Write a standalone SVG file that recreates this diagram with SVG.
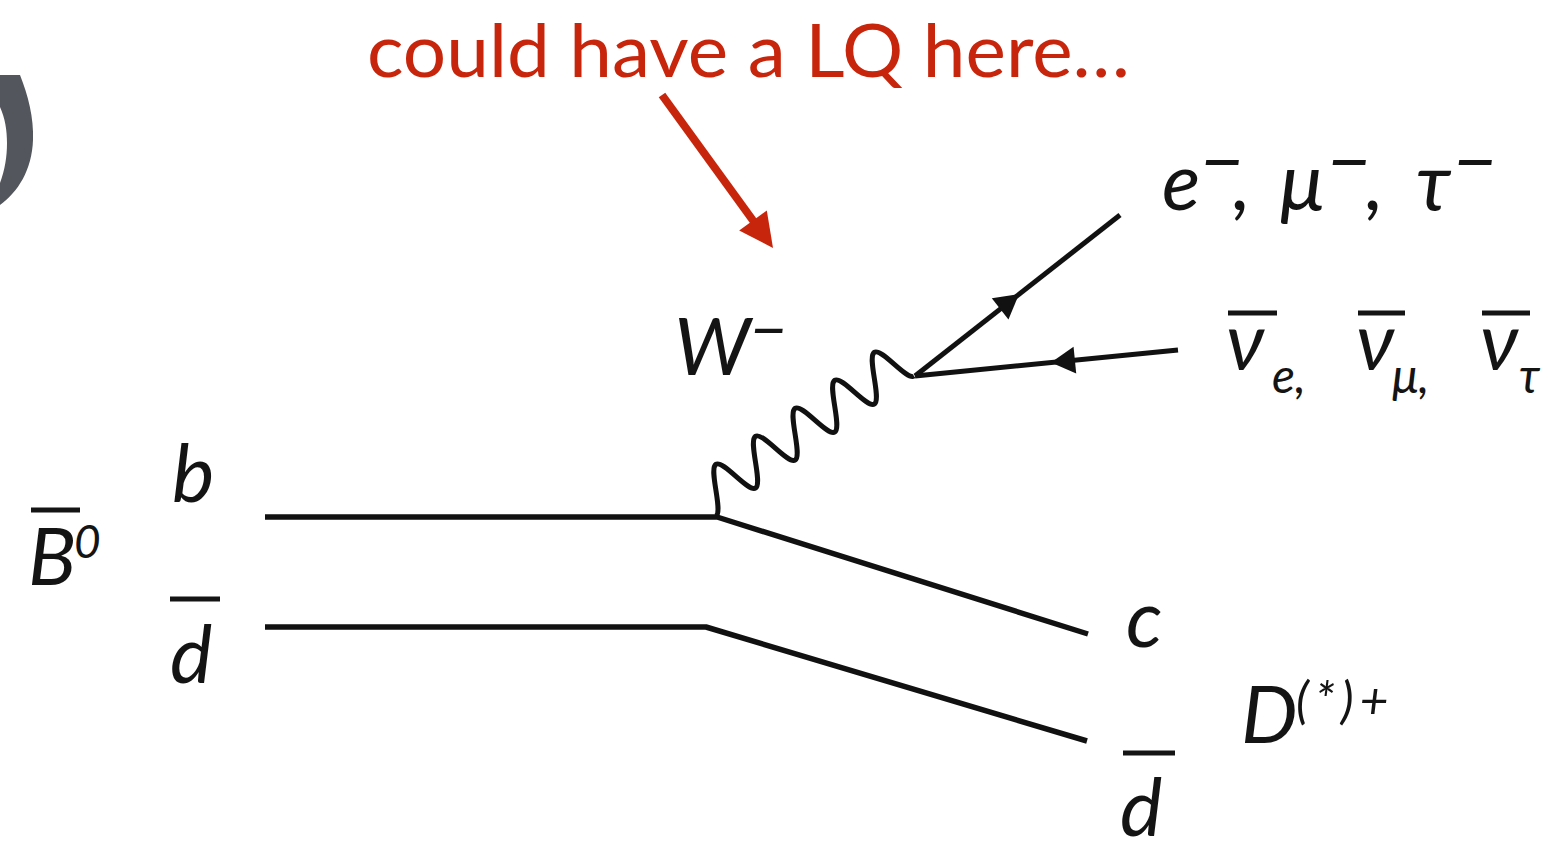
<svg xmlns="http://www.w3.org/2000/svg" width="1548" height="846" viewBox="0 0 1548 846">
<defs>
<style>
.lbl{font-family:Lato,"Noto Sans","DejaVu Sans",sans-serif;font-style:italic;font-size:80px;fill:#141414}
.sup{font-size:64px}
.supm{font-size:76px}
.sub{font-size:48px}
.star{font-size:50px;letter-spacing:6px}
.sm{font-size:46px}
.bar{stroke:#141414;stroke-width:5;fill:none}
.prop{stroke:#111;stroke-width:5.5;fill:none;stroke-linejoin:round;stroke-linecap:butt}
.lep{stroke:#111;stroke-width:5;fill:none}
.wave{stroke:#111;stroke-width:5;fill:none}
.ah{fill:#111}
.red{font-family:Lato,"Open Sans",sans-serif;font-size:74px;fill:#c8260c}
</style>
<path id="ah" d="M0,0 L-24,-13.5 L-24,13.5 Z"/>
</defs>
<rect width="1548" height="846" fill="#ffffff"/>
<path id="frag" d="M0,75 L20,75 C28,95 34,118 33,140 C32,170 18,192 0,205 L0,183 C5,170 7,156 7,143 C7,130 5,118 0,107 Z" fill="#53575d"/>
<g id="connectors">
<path class="prop" d="M265,517 L717,517 L1088,634"/>
<path class="prop" d="M265,627 L706,627 L1087,741"/>
<path class="wave" vector-effect="non-scaling-stroke" transform="matrix(19.8 -14 -10 -18.8 716 516)" d="M0,0 C0.3634,0 0.6366,2 1,2 S1.6366,0 2,0 S2.6366,2 3,2 S3.6366,0 4,0 S4.6366,2 5,2 S5.6366,0 6,0 S6.6366,2 7,2 S7.6366,0 8,0 S8.6366,2 9,2 S9.6366,0 10,0"/>
<path class="lep" d="M915,376 L1120,215"/>
<use href="#ah" class="ah" transform="translate(1019,294) rotate(-38.15)"/>
<path class="lep" d="M1178,350 L915,376"/>
<use href="#ah" class="ah" transform="translate(1051,362.5) rotate(174.35)"/>
<g id="lq-arrow">
<line x1="662" y1="95" x2="757" y2="226" stroke="#c8260c" stroke-width="8"/>
<polygon points="773,248 739.2,230.5 766.8,210.5" fill="#c8260c"/>
</g>
</g>
<g id="note"><text class="red" x="367" y="77" textLength="763" lengthAdjust="spacingAndGlyphs">could have a LQ here…</text></g>
<g id="B0"><line class="bar" x1="31" y1="510" x2="80" y2="510"/><text class="lbl" x="28" y="585">B<tspan class="sm" x="74" y="558">0</tspan></text></g>
<g id="b"><text class="lbl" x="172" y="502">b</text></g>
<g id="dbar-in"><line class="bar" x1="170" y1="599" x2="220" y2="599"/><text class="lbl" x="170" y="683">d</text></g>
<g id="W"><text class="lbl" x="674" y="375">W<tspan class="sup" x="750" y="352">−</tspan></text></g>
<g id="leptons"><text class="lbl" y="210"><tspan x="1162">e</tspan><tspan class="supm" x="1200" y="188">−</tspan><tspan x="1233" y="210">,</tspan><tspan x="1280" y="210">μ</tspan><tspan class="supm" x="1327" y="188">−</tspan><tspan x="1366" y="210">,</tspan><tspan x="1416" y="210">τ</tspan><tspan class="supm" x="1453" y="188">−</tspan></text></g>
<g id="neutrinos">
<line class="bar" x1="1228" y1="313" x2="1277" y2="313"/>
<line class="bar" x1="1358" y1="313" x2="1405" y2="313"/>
<line class="bar" x1="1482" y1="313" x2="1530" y2="313"/>
<text class="lbl" y="370"><tspan x="1226">ν</tspan><tspan class="sub" x="1272" y="393">e,</tspan><tspan x="1356" y="370">ν</tspan><tspan class="sub" x="1392" y="393">μ,</tspan><tspan x="1480" y="370">ν</tspan><tspan class="sub" x="1519" y="393">τ</tspan></text>
</g>
<g id="c"><text class="lbl" x="1126" y="647">c</text></g>
<g id="dbar-out"><line class="bar" x1="1123" y1="753" x2="1175" y2="753"/><text class="lbl" x="1120" y="836">d</text></g>
<g id="D"><text class="lbl" x="1241" y="743">D<tspan class="star" x="1296" y="718">(*)+</tspan></text></g>
</svg>
